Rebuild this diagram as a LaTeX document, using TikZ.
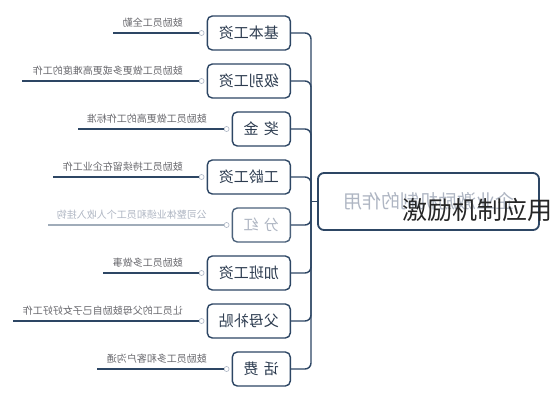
\documentclass[tikz,border=0pt]{standalone}
\usepackage{fontspec}
\setmainfont{Noto Sans CJK SC}
\newfontfamily\cjk{Noto Sans CJK SC}
\definecolor{navy}{RGB}{45,70,100}
\definecolor{boxtxt}{RGB}{45,60,80}
\definecolor{labtxt}{RGB}{105,105,110}
\definecolor{fade}{RGB}{175,182,195}
\definecolor{knobc}{RGB}{170,180,195}
\tikzset{
  catbox/.style={draw=navy, line width=1.4pt, rounded corners=5pt, fill=white,
    minimum height=34pt, inner sep=0pt, text=boxtxt,
    font=\cjk\fontsize{15}{15}\selectfont, anchor=east},
  wide/.style={minimum width=83pt},
  narrow/.style={minimum width=58pt},
  labtext/.style={inner sep=0pt, text=labtxt, font=\cjk\fontsize{10}{10}\selectfont, anchor=east},
  leaf/.style={draw=navy, line width=1.1pt},
  knob/.style={circle, draw=knobc, fill=white, line width=0.6pt, minimum size=5pt, inner sep=0pt},
  branch/.style={draw=navy, line width=1.4pt, rounded corners=6pt},
}
\begin{document}
\begin{tikzpicture}[x=1pt,y=-1pt]
\useasboundingbox (0,0) rectangle (552,400);
\fill[white] (0,0) rectangle (552,400);

% center node
\node[draw=navy, line width=1.8pt, rounded corners=6pt, minimum width=221pt,
  minimum height=57pt, inner sep=0pt, text=fade,
  font=\cjk\fontsize{19}{19}\selectfont] (c) at (428.5,201.5) {\reflectbox{企业激励机制的作用}};
\coordinate (sp) at (311,201.5);

% branches
\node[catbox, wide] (b1) at (291,33) {\reflectbox{基本工资}};
\node[catbox, wide] (b2) at (291,81) {\reflectbox{级别工资}};
\node[catbox, narrow] (b3) at (291,129) {\reflectbox{奖\hspace{0.35em}金}};
\node[catbox, wide] (b4) at (291,177) {\reflectbox{工龄工资}};
\node[catbox, narrow, draw=navy!85, text=fade] (b5) at (291,225) {\reflectbox{分\hspace{0.35em}红}};
\node[catbox, wide] (b6) at (291,273) {\reflectbox{加班工资}};
\node[catbox, wide] (b7) at (291,321) {\reflectbox{父母补贴}};
\node[catbox, narrow] (b8) at (291,369) {\reflectbox{话\hspace{0.35em}费}};

\foreach \i in {1,...,8} {
  \draw[branch] (b\i.east) -| (sp);
}
\draw[branch] (sp) -- (c.west);

% leaf labels
\node[labtext] (t1) at (183,23) {\reflectbox{鼓励员工全勤}};
\node[labtext] (t2) at (183,71) {\reflectbox{鼓励员工做更多或更高难度的工作}};
\node[labtext] (t3) at (207,119) {\reflectbox{鼓励员工做更高的工作标准}};
\node[labtext] (t4) at (183,167) {\reflectbox{鼓励员工持续留在企业工作}};
\node[labtext, text=fade] (t5) at (207,215) {\reflectbox{公司整体业绩和员工个人收入挂钩}};
\node[labtext] (t6) at (183,263) {\reflectbox{鼓励员工多做事}};
\node[labtext] (t7) at (183,311) {\reflectbox{让员工的父母鼓励自己子女好好工作}};
\node[labtext] (t8) at (207,359) {\reflectbox{鼓励员工多和客户沟通}};

\coordinate (e1) at (113,33);
\coordinate (e2) at (22,81);
\coordinate (e3) at (78,129);
\coordinate (e4) at (53,177);
\coordinate (e5) at (48,225);
\coordinate (e6) at (103,273);
\coordinate (e7) at (13,321);
\coordinate (e8) at (97,369);

\foreach \i in {1,...,8} {
  \node[knob] (k\i) at ([xshift=-5pt]b\i.west) {};
}
\foreach \i in {1,2,3,4,6,7,8} {
  \draw[leaf] (e\i) -- (k\i);
}
\draw[leaf, draw=navy!45] (e5) -- (k5);

% overlay text
\node[anchor=east, inner sep=0pt, text=black!85,
  font=\cjk\fontsize{25}{25}\selectfont] (ov) at (553,210) {激励机制应用};
\end{tikzpicture}
\end{document}
